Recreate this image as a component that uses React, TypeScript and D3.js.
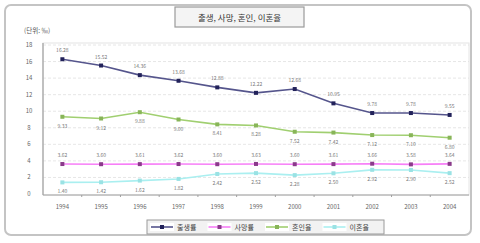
import React from "react";
import * as d3 from "d3";

const years = ["1994","1995","1996","1997","1998","1999","2000","2001","2002","2003","2004"];
const birthRate = [16.28, 15.52, 14.36, 13.68, 12.88, 12.22, 12.68, 10.95, 9.78, 9.78, 9.55];
const deathRate = [3.62, 3.6, 3.61, 3.62, 3.6, 3.63, 3.6, 3.61, 3.66, 3.58, 3.64];
const marriageRate = [9.33, 9.12, 9.88, 9.0, 8.41, 8.28, 7.52, 7.42, 7.12, 7.1, 6.8];
const divorceRate = [1.4, 1.42, 1.62, 1.82, 2.42, 2.52, 2.28, 2.5, 2.92, 2.9, 2.52];
const yTicks = [0, 2, 4, 6, 8, 10, 12, 14, 16, 18];
const seriesNames = ["출생률", "사망률", "혼인율", "이혼율"];
const title = "출생, 사망, 혼인, 이혼율";
const unitLabel = "(단위: ‰)";

const FONT = "'Noto Sans CJK KR', 'Noto Sans', sans-serif";

export default function App() {
  const W = 480, H = 243;
  const left = 43, right = 469, top = 45, bottom = 194;
  const x = d3.scaleBand<string>().domain(years).range([left, right]);
  const y = d3.scaleLinear().domain([0, 18]).range([bottom, top]);
  const cx = (i: number) => (x(years[i]) as number) + x.bandwidth() / 2;

  const series = [
    { name: seriesNames[0], values: birthRate, line: "#55558c", marker: "#22225a", dy: -7 },
    { name: seriesNames[1], values: deathRate, line: "#f77ff7", marker: "#8a3a8a", dy: -7 },
    { name: seriesNames[2], values: marriageRate, line: "#a0cf70", marker: "#88b558", dy: 9 },
    { name: seriesNames[3], values: divorceRate, line: "#aaeff0", marker: "#9ae2e4", dy: 9 },
  ];

  const lineGen = (vals: number[]) =>
    d3.line<number>().x((_, i) => cx(i)).y((v) => y(v))(vals) as string;

  const legendX = 147, legendY = 220, itemW = 57.5;

  return (
    <svg width={W} height={H} style={{ position: "absolute", left: 0, top: 0, fontFamily: FONT }}>
      <rect x={0} y={0} width={W} height={H} fill="#fff" />
      <rect x={5} y={5} width={466} height={230} rx={6} fill="#fff" stroke="#c4c4c4" strokeWidth={2} />
      <rect x={175} y={7} width={129} height={20} fill="#f4f4f4" stroke="#9a9a9a" strokeWidth={1.2} />
      <text x={239.5} y={20.5} textAnchor="middle" fontSize={8.5} fill="#333">{title}</text>
      <text x={24} y={33} fontSize={6.5} fill="#555">{unitLabel}</text>

      <rect x={left} y={top - 2} width={right - left} height={bottom - top + 3} fill="#fff" stroke="#e4e4e4" strokeWidth={1} />
      {yTicks.map((t) => (
        <g key={t}>
          {t !== 0 && (
            <line x1={left} x2={right} y1={y(t)} y2={y(t)} stroke="#e0e0e0" strokeDasharray="3,2" strokeWidth={0.8} />
          )}
          <text x={29} y={y(t) + 2} textAnchor="middle" fontSize={6} fill="#666">{t}</text>
        </g>
      ))}
      <line x1={left} x2={left} y1={top - 2} y2={bottom + 1} stroke="#a0a0a0" strokeWidth={1.2} />
      <line x1={left} x2={right} y1={bottom + 1} y2={bottom + 1} stroke="#a0a0a0" strokeWidth={1.2} />
      {years.map((yr, i) => (
        <g key={yr}>
          {i > 0 && <line x1={x(yr)} x2={x(yr)} y1={bottom + 1} y2={bottom + 3} stroke="#a0a0a0" />}
          <text x={cx(i)} y={209} textAnchor="middle" fontSize={6} fill="#666">{yr}</text>
        </g>
      ))}

      {series.map((s) => (
        <g key={s.name}>
          <path d={lineGen(s.values)} fill="none" stroke={s.line} strokeWidth={1.6} />
          {s.values.map((v, i) => (
            <g key={i}>
              <rect x={cx(i) - 2} y={y(v) - 2} width={4} height={4} fill={s.marker} />
              <text x={cx(i)} y={y(v) + s.dy + (s.dy > 0 ? 2 : 0)} textAnchor="middle" fontSize={5} fill="#777">
                {v.toFixed(2)}
              </text>
            </g>
          ))}
        </g>
      ))}

      <rect x={legendX} y={legendY} width={237} height={14} fill="#f2f2f2" stroke="#9a9a9a" strokeWidth={1} />
      {series.map((s, i) => {
        const lx = legendX + 3 + i * itemW;
        const ly = legendY + 7;
        return (
          <g key={s.name}>
            <rect x={lx} y={ly - 4} width={24} height={8} fill="#fff" />
            <line x1={lx + 1} x2={lx + 23} y1={ly} y2={ly} stroke={s.line} strokeWidth={1.6} />
            <rect x={lx + 10} y={ly - 2} width={4} height={4} fill={s.marker} />
            <text x={lx + 27} y={ly + 2.5} fontSize={7} fill="#444">{s.name}</text>
          </g>
        );
      })}
    </svg>
  );
}
